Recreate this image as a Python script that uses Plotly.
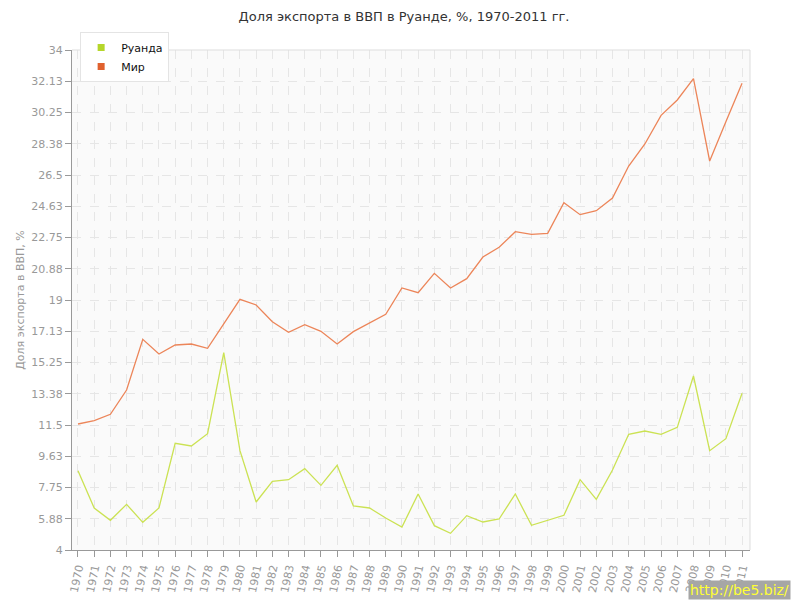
# Доля экспорта в ВВП: Руанда и мир, 1970-2011, %
import plotly.graph_objects as go

years = list(range(1970, 2012))
rwanda = [8.76, 6.52, 5.78, 6.74, 5.66, 6.52, 10.4, 10.24, 10.98, 15.84,
          9.96, 6.88, 8.12, 8.22, 8.88, 7.88, 9.08, 6.64, 6.52, 5.92,
          5.38, 7.36, 5.46, 5.0, 6.06, 5.68, 5.86, 7.36, 5.48, 5.76,
          6.08, 8.22, 7.04, 8.8, 10.94, 11.14, 10.94, 11.36, 14.44, 9.96,
          10.68, 13.4]
world = [11.56, 11.76, 12.14, 13.6, 16.64, 15.76, 16.3, 16.36, 16.1, 17.54,
         19.04, 18.7, 17.7, 17.06, 17.52, 17.12, 16.36, 17.1, 17.6, 18.14,
         19.72, 19.44, 20.6, 19.72, 20.28, 21.58, 22.16, 23.1, 22.94, 23.0,
         24.84, 24.12, 24.36, 25.12, 27.04, 28.36, 30.08, 31.0, 32.28, 27.34,
         29.7, 32.0]
ytick_vals = [4 + 1.875 * i for i in range(17)]
ytick_text = ["4", "5.88", "7.75", "9.63", "11.5", "13.38", "15.25", "17.13", "19",
              "20.88", "22.75", "24.63", "26.5", "28.38", "30.25", "32.13", "34"]

fig = go.Figure()
fig.add_trace(go.Scatter(x=years, y=rwanda, mode="lines", name="Руанда",
                         line=dict(color="#cbe253", width=1.3), showlegend=False))
fig.add_trace(go.Scatter(x=years, y=world, mode="lines", name="Мир",
                         line=dict(color="#ec8559", width=1.3), showlegend=False))
# legend entries with square swatches
fig.add_trace(go.Scatter(x=[None], y=[None], mode="markers", name="Руанда",
                         marker=dict(symbol="square", size=7, color="#b5d62a")))
fig.add_trace(go.Scatter(x=[None], y=[None], mode="markers", name="Мир",
                         marker=dict(symbol="square", size=7, color="#e0612e")))

# page body has an 8px margin, so the figure is 8px smaller and shifted
fig.update_layout(
    width=792, height=592,
    margin=dict(l=64, r=50, t=42, b=50, autoexpand=False),
    paper_bgcolor="white",
    plot_bgcolor="#fafafa",
    font=dict(family="DejaVu Sans", size=11, color="#999"),
    title=dict(text="Доля экспорта в ВВП в Руанде, %, 1970-2011 гг.",
               x=0.5, xanchor="center", y=0.985, yanchor="middle",
               font=dict(size=13, color="#333")),
    legend=dict(x=0.012, y=1.036, xanchor="left", yanchor="top",
                bgcolor="white", bordercolor="#e4e4e4", borderwidth=1,
                font=dict(size=11, color="#111"), tracegroupgap=0,
                itemwidth=30),
    xaxis=dict(range=[1969.63, 2011.49], tickvals=years,
               ticktext=[str(y) for y in years], tickangle=-78,
               showgrid=True, gridcolor="#e6e6e6", griddash="dash",
               showline=True, linecolor="#999", linewidth=1,
               ticks="outside", ticklen=6, tickcolor="#999",
               mirror=False, zeroline=False,
               tickfont=dict(size=11, color="#999")),
    yaxis=dict(range=[4, 34], tickvals=ytick_vals, ticktext=ytick_text,
               showgrid=True, gridcolor="#e6e6e6", griddash="dash",
               showline=True, linecolor="#999", linewidth=1,
               ticks="outside", ticklen=6, tickcolor="#999",
               zeroline=False,
               title=dict(text="Доля экспорта в ВВП, %", standoff=4,
                          font=dict(size=11, color="#999"))),
    shapes=[
        dict(type="line", xref="paper", yref="paper", x0=0, x1=1, y0=1, y1=1,
             line=dict(color="#dddddd", width=1)),
        dict(type="line", xref="paper", yref="paper", x0=1, x1=1, y0=0, y1=1,
             line=dict(color="#dddddd", width=1)),
    ],
    annotations=[
        dict(text="http://be5.biz/", xref="paper", yref="paper",
             x=1.06, y=-0.1, xanchor="right", yanchor="bottom",
             showarrow=False, bgcolor="#a6a6a6", borderpad=1,
             font=dict(size=14, color="#ffff33"))
    ],
)

fig.write_html("out.html")
